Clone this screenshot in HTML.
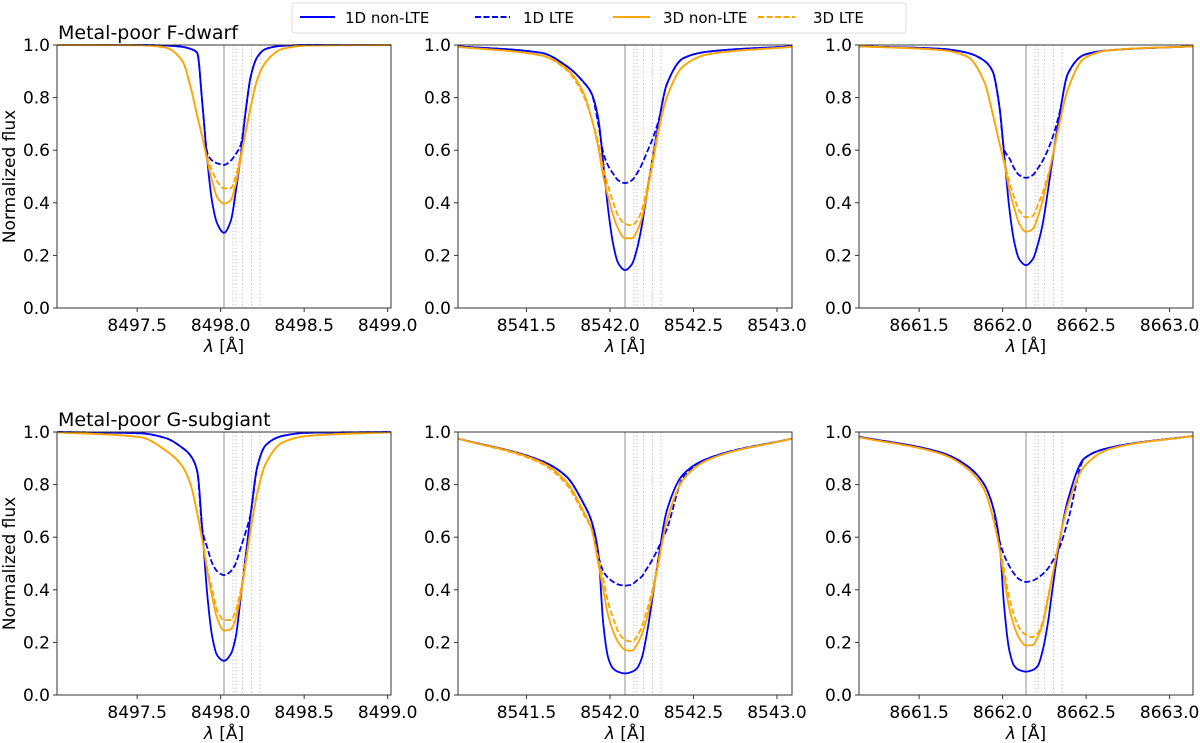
<!DOCTYPE html>
<html><head><meta charset="utf-8">
<style>
html,body{margin:0;padding:0;background:#fff;}
svg{display:block;font-family:"DejaVu Sans","Liberation Sans",sans-serif;}
</style></head>
<body>
<svg id="fig" width="1200" height="743" viewBox="0 0 1200 743" xmlns="http://www.w3.org/2000/svg">
<g id="legend">
<rect x="292" y="3" width="614" height="30" rx="3" fill="#fff" stroke="#ddd"/>
<g><line x1="300" y1="17" x2="335" y2="17" stroke="#0000ff" stroke-width="2"/><text x="345" y="23" font-size="15">1D non-LTE</text></g>
<g><line x1="475" y1="17" x2="510" y2="17" stroke="#0000ff" stroke-width="2" stroke-dasharray="6,2.5"/><text x="523" y="23" font-size="15">1D LTE</text></g>
<g><line x1="613" y1="17" x2="650" y2="17" stroke="#ffa500" stroke-width="2"/><text x="663" y="23" font-size="15">3D non-LTE</text></g>
<g><line x1="758" y1="17" x2="795" y2="17" stroke="#ffa500" stroke-width="2" stroke-dasharray="6,2.5"/><text x="813" y="23" font-size="15">3D LTE</text></g>
</g>
</svg>
<script>
// wavelength offset grid (Å relative to line centre)
const offsets = [-1,-0.5,-0.35,-0.25,-0.2,-0.16,-0.13,-0.1,-0.07,-0.04,0,0.04,0.07,0.1,0.13,0.16,0.2,0.25,0.35,0.5,1];
const lineCentres = [8498.02, 8542.09, 8662.14];
const isotopeOffsets = [0.054, 0.072, 0.11, 0.165, 0.216];
const yTicks = [0.0, 0.2, 0.4, 0.6, 0.8, 1.0];
const xTicks = [[8497.5,8498.0,8498.5,8499.0],[8541.5,8542.0,8542.5,8543.0],[8661.5,8662.0,8662.5,8663.0]];
const rowTitles = ["Metal-poor F-dwarf", "Metal-poor G-subgiant"];
const seriesNames = ["1D non-LTE","1D LTE","3D non-LTE","3D LTE"];
// F-dwarf
const fd8498_1dN = [1,1,0.998,0.993,0.985,0.97,0.78,0.56,0.40,0.32,0.286,0.33,0.44,0.58,0.75,0.88,0.955,0.985,0.997,1,1];
const fd8498_1dL = [1,1,0.998,0.993,0.985,0.97,0.78,0.59,0.56,0.55,0.544,0.56,0.585,0.62,0.75,0.88,0.955,0.985,0.997,1,1];
const fd8498_3dN = [1,0.999,0.99,0.94,0.84,0.73,0.65,0.56,0.48,0.42,0.397,0.41,0.47,0.57,0.67,0.765,0.87,0.935,0.985,0.998,1];
const fd8498_3dL = [1,0.999,0.99,0.94,0.84,0.73,0.65,0.57,0.52,0.48,0.455,0.455,0.50,0.58,0.67,0.765,0.87,0.935,0.985,0.998,1];
const fd8542_1dN = [0.995,0.97,0.92,0.86,0.815,0.72,0.55,0.37,0.24,0.17,0.144,0.165,0.22,0.31,0.43,0.55,0.70,0.85,0.95,0.975,0.995];
const fd8542_1dL = [0.995,0.97,0.92,0.86,0.815,0.70,0.59,0.54,0.51,0.485,0.475,0.485,0.51,0.545,0.59,0.635,0.71,0.85,0.95,0.975,0.995];
const fd8542_3dN = [0.993,0.96,0.91,0.82,0.72,0.61,0.50,0.42,0.35,0.30,0.265,0.265,0.29,0.34,0.43,0.53,0.67,0.80,0.92,0.965,0.993];
const fd8542_3dL = [0.993,0.96,0.905,0.81,0.72,0.63,0.53,0.46,0.40,0.35,0.32,0.315,0.33,0.37,0.45,0.55,0.68,0.80,0.92,0.965,0.993];
const fd8662_1dN = [0.995,0.985,0.97,0.94,0.90,0.77,0.58,0.38,0.25,0.185,0.163,0.185,0.24,0.32,0.44,0.57,0.73,0.89,0.963,0.98,0.995];
const fd8662_1dL = [0.995,0.985,0.97,0.94,0.90,0.77,0.60,0.57,0.53,0.505,0.495,0.505,0.53,0.56,0.60,0.65,0.74,0.89,0.963,0.98,0.995];
const fd8662_3dN = [0.995,0.98,0.955,0.86,0.74,0.63,0.55,0.45,0.38,0.32,0.29,0.30,0.345,0.41,0.49,0.58,0.70,0.83,0.95,0.98,0.995];
const fd8662_3dL = [0.995,0.98,0.955,0.86,0.74,0.63,0.56,0.48,0.42,0.37,0.345,0.35,0.39,0.44,0.50,0.58,0.70,0.83,0.95,0.98,0.995];
// G-subgiant
const gs8498_1dN = [1,0.995,0.977,0.94,0.91,0.85,0.63,0.38,0.22,0.15,0.13,0.155,0.22,0.37,0.53,0.69,0.87,0.95,0.985,0.997,1];
const gs8498_1dL = [1,0.995,0.977,0.94,0.91,0.85,0.63,0.56,0.50,0.47,0.456,0.47,0.50,0.56,0.62,0.69,0.87,0.95,0.985,0.997,1];
const gs8498_3dN = [0.999,0.98,0.93,0.87,0.80,0.69,0.59,0.47,0.37,0.29,0.245,0.25,0.29,0.38,0.50,0.63,0.77,0.88,0.96,0.985,0.999];
const gs8498_3dL = [0.999,0.98,0.93,0.87,0.80,0.69,0.59,0.48,0.40,0.32,0.285,0.285,0.32,0.40,0.51,0.63,0.77,0.88,0.96,0.985,0.999];
const gs8542_1dN = [0.975,0.89,0.83,0.73,0.66,0.54,0.27,0.14,0.10,0.088,0.082,0.088,0.10,0.14,0.23,0.35,0.52,0.70,0.84,0.90,0.975];
const gs8542_1dL = [0.975,0.89,0.83,0.73,0.66,0.53,0.47,0.445,0.43,0.42,0.416,0.42,0.435,0.45,0.48,0.51,0.56,0.63,0.83,0.90,0.975];
const gs8542_3dN = [0.975,0.885,0.81,0.70,0.63,0.50,0.40,0.30,0.24,0.20,0.172,0.168,0.19,0.23,0.29,0.37,0.50,0.66,0.82,0.895,0.975];
const gs8542_3dL = [0.975,0.88,0.80,0.69,0.63,0.52,0.44,0.35,0.29,0.24,0.21,0.203,0.22,0.26,0.32,0.39,0.51,0.66,0.82,0.895,0.975];
const gs8662_1dN = [0.982,0.92,0.87,0.80,0.72,0.59,0.33,0.17,0.11,0.095,0.089,0.095,0.11,0.17,0.27,0.41,0.58,0.74,0.90,0.94,0.985];
const gs8662_1dL = [0.982,0.92,0.87,0.80,0.72,0.59,0.53,0.49,0.46,0.44,0.43,0.435,0.445,0.46,0.48,0.51,0.56,0.66,0.90,0.94,0.985];
const gs8662_3dN = [0.98,0.915,0.86,0.78,0.68,0.56,0.44,0.33,0.26,0.215,0.188,0.19,0.22,0.27,0.36,0.46,0.59,0.72,0.87,0.935,0.985];
const gs8662_3dL = [0.98,0.915,0.86,0.78,0.68,0.57,0.47,0.37,0.30,0.255,0.228,0.22,0.235,0.28,0.37,0.46,0.59,0.72,0.87,0.935,0.985];

const panelSeries = [
 [[fd8498_1dN,fd8498_1dL,fd8498_3dN,fd8498_3dL],[fd8542_1dN,fd8542_1dL,fd8542_3dN,fd8542_3dL],[fd8662_1dN,fd8662_1dL,fd8662_3dN,fd8662_3dL]],
 [[gs8498_1dN,gs8498_1dL,gs8498_3dN,gs8498_3dL],[gs8542_1dN,gs8542_1dL,gs8542_3dN,gs8542_3dL],[gs8662_1dN,gs8662_1dL,gs8662_3dN,gs8662_3dL]]
];

const NS = "http://www.w3.org/2000/svg";
const svg = document.getElementById('fig');
const colLeft = [57, 458, 859], W = 334;
const rowTop = [45, 432], H = 263;
const styles = [["#0000ff",null],["#0000ff","6,2.5"],["#ffa500",null],["#ffa500","6,2.5"]];
const keys = ["1d-nlte","1d-lte","3d-nlte","3d-lte"];

function mk(tag, attrs, parent){const e=document.createElementNS(NS,tag);for(const k in attrs)e.setAttribute(k,attrs[k]);(parent||svg).appendChild(e);return e;}

function monotone(xs, ys){
  const n=xs.length, d=[], m=new Array(n);
  for(let i=0;i<n-1;i++) d.push((ys[i+1]-ys[i])/(xs[i+1]-xs[i]));
  m[0]=d[0]; m[n-1]=d[n-2];
  for(let i=1;i<n-1;i++){
    if(d[i-1]*d[i]<=0) m[i]=0;
    else{const h0=xs[i]-xs[i-1],h1=xs[i+1]-xs[i];const w1=2*h1+h0,w2=h1+2*h0;m[i]=(w1+w2)/(w1/d[i-1]+w2/d[i]);}
  }
  return function(x){
    let i=0; while(i<n-2 && x>xs[i+1]) i++;
    const h=xs[i+1]-xs[i], t=(x-xs[i])/h, t2=t*t, t3=t2*t;
    return (2*t3-3*t2+1)*ys[i]+(t3-2*t2+t)*h*m[i]+(-2*t3+3*t2)*ys[i+1]+(t3-t2)*h*m[i+1];
  };
}

for(let r=0;r<2;r++){
  for(let c=0;c<3;c++){
    const L=colLeft[c], T=rowTop[r];
    const x0=lineCentres[c]-1, x1=lineCentres[c]+1;
    const sx=v=>L+(v-x0)/(x1-x0)*W;
    const sy=v=>T+H-v*H;
    const g=mk('g',{});
    
    
    const cid='clip'+r+c;
    const cp=mk('clipPath',{id:cid},g); mk('rect',{x:L,y:T-2,width:W,height:H+4},cp);
    isotopeOffsets.forEach(o=>{
      const ln=mk('line',{x1:sx(lineCentres[c]+o),x2:sx(lineCentres[c]+o),y1:T,y2:T+H,stroke:'#c8c8c8','stroke-width':1,'stroke-dasharray':'1.5,2'},g);
      
      
    });
    const cl=mk('line',{x1:sx(lineCentres[c]),x2:sx(lineCentres[c]),y1:T,y2:T+H,stroke:'#aaaaaa','stroke-width':1.3},g);
    
    
    panelSeries[r][c].forEach((vals,si)=>{
      const f=monotone(offsets,vals);
      let d='';
      for(let k=0;k<=400;k++){const o=-1+2*k/400;const v=f(o);d+=(k?'L':'M')+sx(lineCentres[c]+o).toFixed(2)+','+sy(v).toFixed(2);}
      const p=mk('path',{d:d,fill:'none',stroke:styles[si][0],'stroke-width':1.8,'stroke-linejoin':'round','clip-path':'url(#'+cid+')'},g);
      if(styles[si][1]) p.setAttribute('stroke-dasharray',styles[si][1]);
      
      
    });
    const fr=mk('rect',{x:L,y:T,width:W,height:H,fill:'none',stroke:'#333','stroke-width':1},g);
    
    
    yTicks.forEach(v=>{
      mk('line',{x1:L-4,x2:L,y1:sy(v),y2:sy(v),stroke:'#333'},g);
      const t=mk('text',{x:L-7,y:sy(v)+6,'font-size':17,'text-anchor':'end'},g);
      t.textContent=v.toFixed(1);
      
      
    });
    xTicks[c].forEach(v=>{
      mk('line',{x1:sx(v),x2:sx(v),y1:T+H,y2:T+H+4,stroke:'#333'},g);
      const t=mk('text',{x:sx(v),y:T+H+23,'font-size':17,'text-anchor':'middle'},g);
      t.textContent=v.toFixed(1);
      
      
    });
    const xl=mk('text',{x:L+W/2,y:T+H+44,'font-size':17,'text-anchor':'middle'},g);
    xl.innerHTML='<tspan font-style="italic">λ</tspan> [Å]';
    
    
    if(c===0){
      const yl=mk('text',{x:0,y:0,'font-size':17,'text-anchor':'middle',transform:'translate(15,'+(T+H/2)+') rotate(-90)'},g);
      yl.textContent='Normalized flux';
      
      
      const tt=mk('text',{x:L+1,y:T-6,'font-size':19},g);
      tt.textContent=rowTitles[r];
      
      
    }
  }
}
svg.appendChild(document.getElementById('legend'));
</script>
</body></html>
